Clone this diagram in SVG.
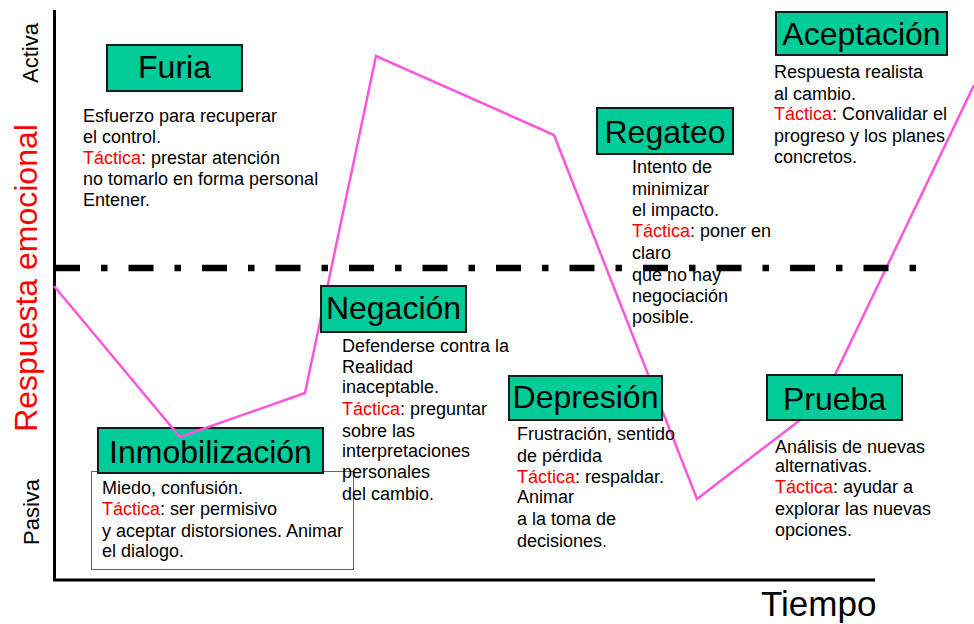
<svg xmlns="http://www.w3.org/2000/svg" width="974" height="624" viewBox="0 0 974 624">
<style>
.ttl{font-family:"Liberation Sans",Arial,sans-serif;font-size:32px;fill:#000;text-anchor:middle}
.bd{font-family:"Liberation Sans",Arial,sans-serif;font-size:18px;fill:#000}
.red{fill:#ff0000}
.box{fill:#00cc99;stroke:#1a1a1a;stroke-width:2}
.ax{font-family:"Liberation Sans",Arial,sans-serif;font-size:22px;fill:#000;text-anchor:middle}
</style>
<rect width="974" height="624" fill="#fff"/>
<g id="axes">
<line x1="54.5" y1="10" x2="54.5" y2="580" stroke="#000" stroke-width="3"/>
<line x1="53" y1="580" x2="875" y2="580" stroke="#000" stroke-width="3"/>
<text class="ax" transform="translate(38,53) rotate(-90)">Activa</text>
<text class="ax" transform="translate(39,512) rotate(-90)">Pasiva</text>
<text transform="translate(37,278) rotate(-90)" font-family="Liberation Sans, Arial, sans-serif" font-size="32" fill="#ff0000" text-anchor="middle">Respuesta emocional</text>
<text x="761" y="616" font-family="Liberation Sans, Arial, sans-serif" font-size="35" fill="#000">Tiempo</text>
</g>
<g id="inmobilizacion">
<rect x="91.5" y="471.5" width="262" height="98" fill="none" stroke="#666" stroke-width="1"/>
<rect class="box" x="98" y="428" width="225" height="45"/>
<text class="ttl" x="210.5" y="463">Inmobilización</text>
<text class="bd" x="102" y="494">Miedo, confusión.</text>
<text class="bd" x="102" y="515"><tspan class="red">Táctica</tspan>: ser permisivo</text>
<text class="bd" x="102" y="537">y aceptar distorsiones. Animar</text>
<text class="bd" x="102" y="557">el dialogo.</text>
</g>
<g id="connectors">
<polyline points="54,286 180,437 305,393 376,56 554,135 697,499 821,404 974,85" fill="none" stroke="#ff55dd" stroke-width="2.5" stroke-linejoin="miter"/>
</g>
<g id="furia">
<rect class="box" x="107" y="45" width="135" height="46"/>
<text class="ttl" x="174.5" y="78">Furia</text>
<text class="bd" x="83" y="122">Esfuerzo para recuperar</text>
<text class="bd" x="83" y="143">el control.</text>
<text class="bd" x="83" y="164"><tspan class="red">Táctica</tspan>: prestar atención</text>
<text class="bd" x="83" y="185">no tomarlo en forma personal</text>
<text class="bd" x="83" y="206">Entener.</text>
</g>
<g id="negacion">
<rect class="box" x="321" y="286" width="145" height="46"/>
<text class="ttl" x="393.5" y="319">Negación</text>
<text class="bd" x="342" y="352">Defenderse contra la</text>
<text class="bd" x="342" y="373">Realidad</text>
<text class="bd" x="342" y="393">inaceptable.</text>
<text class="bd" x="342" y="415"><tspan class="red">Táctica</tspan>: preguntar</text>
<text class="bd" x="342" y="437">sobre las</text>
<text class="bd" x="342" y="457">interpretaciones</text>
<text class="bd" x="342" y="478">personales</text>
<text class="bd" x="342" y="500">del cambio.</text>
</g>
<g id="depresion">
<rect class="box" x="509" y="376" width="153" height="44"/>
<text class="ttl" x="585.5" y="408">Depresión</text>
<text class="bd" x="517" y="440">Frustración, sentido</text>
<text class="bd" x="517" y="462">de pérdida</text>
<text class="bd" x="517" y="483"><tspan class="red">Táctica</tspan>: respaldar.</text>
<text class="bd" x="517" y="503">Animar</text>
<text class="bd" x="517" y="525">a la toma de</text>
<text class="bd" x="517" y="547">decisiones.</text>
</g>
<g id="regateo">
<rect class="box" x="597" y="108" width="136" height="46"/>
<text class="ttl" x="665" y="143">Regateo</text>
<text class="bd" x="632" y="173">Intento de</text>
<text class="bd" x="632" y="195">minimizar</text>
<text class="bd" x="632" y="216">el impacto.</text>
<text class="bd" x="632" y="237"><tspan class="red">Táctica</tspan>: poner en</text>
<text class="bd" x="632" y="259">claro</text>
<text class="bd" x="632" y="281">que no hay</text>
<text class="bd" x="632" y="302">negociación</text>
<text class="bd" x="632" y="323">posible.</text>
</g>
<g id="aceptacion">
<rect class="box" x="776" y="12" width="171" height="43"/>
<text class="ttl" x="861.5" y="45">Aceptación</text>
<text class="bd" x="774" y="78">Respuesta realista</text>
<text class="bd" x="774" y="100">al cambio.</text>
<text class="bd" x="774" y="120"><tspan class="red">Táctica</tspan>: Convalidar el</text>
<text class="bd" x="774" y="142">progreso y los planes</text>
<text class="bd" x="774" y="163">concretos.</text>
</g>
<g id="prueba">
<rect class="box" x="767" y="375" width="135" height="45"/>
<text class="ttl" x="834.5" y="410">Prueba</text>
<text class="bd" x="775" y="453">Análisis de nuevas</text>
<text class="bd" x="775" y="472">alternativas.</text>
<text class="bd" x="775" y="493"><tspan class="red">Táctica</tspan>: ayudar a</text>
<text class="bd" x="775" y="515">explorar las nuevas</text>
<text class="bd" x="775" y="536">opciones.</text>
</g>
<g id="threshold">
<line x1="55" y1="268" x2="917" y2="268" stroke="#000" stroke-width="6.5" stroke-dasharray="25 21 6.5 21"/>
</g>
</svg>
